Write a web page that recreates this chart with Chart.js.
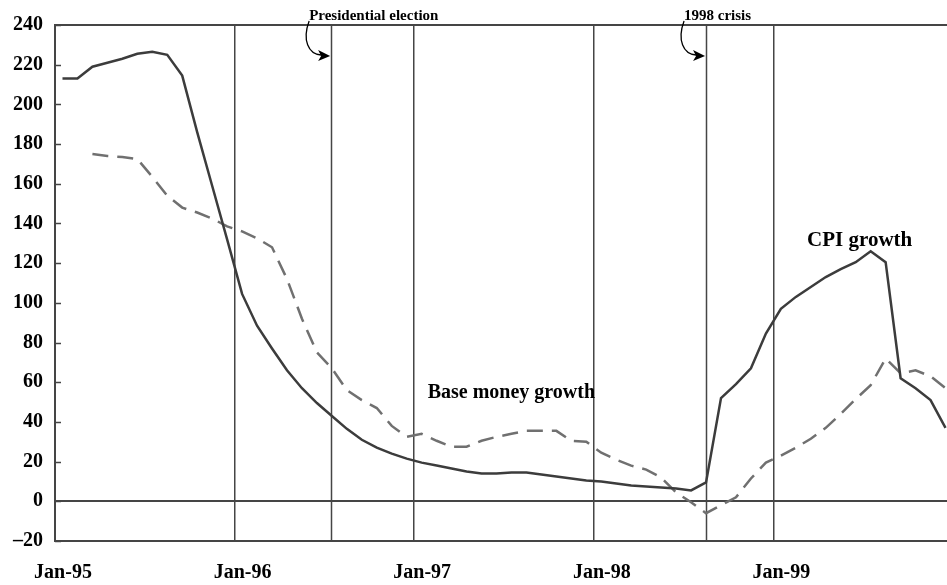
<!DOCTYPE html>
<html>
<head>
<meta charset="utf-8">
<script src="https://cdn.jsdelivr.net/npm/chart.js@4"></script>
<style>
  html, body { margin: 0; padding: 0; background: #fff; }
  #wrap { width: 947px; height: 585px; }
</style>
</head>
<body>
<div id="wrap"><canvas id="chart"></canvas></div>
<script>
// months counted from Jan-95 (0), points sit mid-month
const yearTicks = [0, 12, 24, 36, 48];
const yearLabels = ['Jan-95', 'Jan-96', 'Jan-97', 'Jan-98', 'Jan-99'];

const cpiGrowth = [
  213, 213, 219, 221, 223, 225.5, 226.5, 225, 214.5, 186, 159, 132,
  104.5, 88.5, 77, 66, 57, 49.5, 43, 36.5, 31, 27, 24, 21.5,
  19.5, 18, 16.5, 15, 14, 14, 14.5, 14.5, 13.5, 12.5, 11.5, 10.5,
  10, 9, 8, 7.5, 7, 6.5, 5.5, 9.5, 52, 59, 67, 84.5,
  97, 103, 108, 113, 117, 120.5, 126, 120.5, 62, 57, 51, 37
];
const baseMoneyGrowth = [
  null, null, 175, 174, 173.5, 172.5, 163.5, 154, 148, 145.5, 142.5, 138.5,
  136, 132.5, 128, 112, 92, 75, 67, 56, 51, 47, 38, 32.5,
  34, 30.5, 27.5, 27.5, 30.5, 32.5, 34, 35.5, 35.5, 35.5, 30.5, 30,
  24.5, 21, 18, 16, 12, 4.5, -0.5, -6, -2, 2, 11.5, 19.5,
  23, 27, 31.5, 37, 44, 51.5, 58.5, 72, 64.5, 66, 63, 57
];

// event lines (month position) and their notes
const eventPos = [18.45, 43.5];
const eventNotes = ['Presidential election', '1998 crisis'];

const seriesLabels = [
  { text: 'CPI growth', x: 50.25, y: 131.5, size: 21 },
  { text: 'Base money growth', x: 24.9, y: 54.5, size: 20 }
];

const toPoints = arr => arr.map((v, i) => ({ x: i + 0.5, y: v }));

const lineColor = '#454545';
const serif = '"Liberation Serif", "Times New Roman", serif';

const decorPlugin = {
  id: 'decor',
  beforeDatasetsDraw(chart) {
    const { ctx, chartArea, scales: { x, y } } = chart;
    ctx.save();
    ctx.strokeStyle = lineColor;
    ctx.lineWidth = 1.5;
    // event lines
    eventPos.forEach(p => {
      const px = Math.round(x.getPixelForValue(p)) + 0.5;
      ctx.beginPath();
      ctx.moveTo(px, chartArea.top);
      ctx.lineTo(px, chartArea.bottom);
      ctx.stroke();
    });
    // small inward ticks on the value axis
    y.ticks.forEach(t => {
      const py = Math.round(y.getPixelForValue(t.value)) + 0.5;
      ctx.beginPath();
      ctx.moveTo(chartArea.left, py);
      ctx.lineTo(chartArea.left + 6, py);
      ctx.stroke();
    });
    ctx.restore();
  },
  afterDatasetsDraw(chart) {
    const { ctx, scales: { x, y } } = chart;
    ctx.save();
    ctx.fillStyle = '#000';
    ctx.strokeStyle = '#000';
    ctx.textBaseline = 'alphabetic';
    // notes with curved arrows
    eventPos.forEach((p, i) => {
      const px = x.getPixelForValue(p);
      const sx = px - 24;
      ctx.font = 'bold 15px ' + serif;
      ctx.textAlign = 'left';
      ctx.fillText(eventNotes[i], sx + 2, 20);
      ctx.lineWidth = 1.3;
      ctx.beginPath();
      ctx.moveTo(sx + 2, 21);
      ctx.bezierCurveTo(sx - 5, 40, sx + 1, 54, px - 10, 55);
      ctx.stroke();
      ctx.beginPath();
      ctx.moveTo(px - 1, 56);
      ctx.lineTo(px - 13, 50);
      ctx.lineTo(px - 10, 56);
      ctx.lineTo(px - 13, 61);
      ctx.closePath();
      ctx.fill();
    });
    // series labels
    seriesLabels.forEach(l => {
      ctx.font = 'bold ' + l.size + 'px ' + serif;
      ctx.textAlign = 'left';
      ctx.textBaseline = 'middle';
      ctx.fillText(l.text, x.getPixelForValue(l.x), y.getPixelForValue(l.y));
    });
    ctx.restore();
  }
};

new Chart(document.getElementById('chart').getContext('2d'), {
  type: 'line',
  data: {
    datasets: [
      {
        label: 'CPI growth',
        data: toPoints(cpiGrowth),
        borderColor: '#3c3c3c',
        borderWidth: 2.5,
        pointRadius: 0,
        tension: 0,
        fill: false
      },
      {
        label: 'Base money growth',
        data: toPoints(baseMoneyGrowth),
        borderColor: '#707070',
        borderWidth: 2.5,
        borderDash: [16, 9],
        pointRadius: 0,
        tension: 0,
        fill: false,
        spanGaps: false
      }
    ]
  },
  options: {
    responsive: true,
    maintainAspectRatio: false,
    animation: false,
    layout: { padding: { top: 25, right: 0, left: 0, bottom: 0 } },
    plugins: {
      legend: { display: false },
      tooltip: { enabled: false }
    },
    scales: {
      x: {
        type: 'linear',
        min: 0,
        max: 59.6,
        afterBuildTicks: scale => {
          scale.ticks = yearTicks.map(v => ({ value: v }));
        },
        afterFit: scale => { scale.height = 44; },
        ticks: {
          autoSkip: false,
          maxRotation: 0,
          padding: 20,
          labelOffset: 8,
          color: '#000',
          font: { family: serif, size: 20, weight: 'bold' },
          callback: v => yearLabels[yearTicks.indexOf(v)]
        },
        grid: {
          drawTicks: false,
          color: ctx => (ctx.tick && ctx.tick.value > 0 ? lineColor : 'transparent'),
          lineWidth: 1.5
        },
        border: { display: true, color: lineColor, width: 2 }
      },
      y: {
        min: -20,
        max: 240,
        afterFit: scale => { scale.width = 55; },
        ticks: {
          stepSize: 20,
          padding: 12,
          color: '#000',
          font: { family: serif, size: 20, weight: 'bold' },
          callback: v => (v < 0 ? '\u2013' + Math.abs(v) : String(v))
        },
        grid: {
          drawTicks: false,
          color: ctx => (ctx.tick && (ctx.tick.value === 0 || ctx.tick.value === 240) ? lineColor : 'transparent'),
          lineWidth: 2
        },
        border: { display: true, color: lineColor, width: 2 }
      }
    }
  },
  plugins: [decorPlugin]
});
</script>
</body>
</html>
